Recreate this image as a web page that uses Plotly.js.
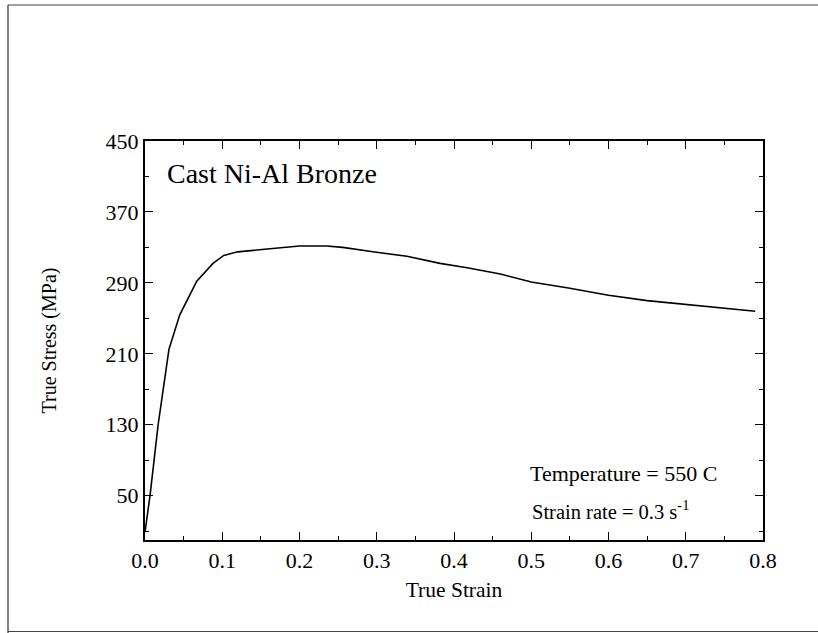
<!DOCTYPE html>
<html>
<head>
<meta charset="utf-8">
<script src="https://cdn.plot.ly/plotly-3.0.1.min.js"></script>
<style>html,body{margin:0;padding:0;background:#fff;}#chart{width:818px;height:633px;}</style>
</head>
<body>
<div id="chart"></div>
<script>
const strain = [0, 0.0065, 0.017, 0.031, 0.045, 0.067, 0.088, 0.102, 0.12, 0.146, 0.175, 0.2, 0.235, 0.256, 0.295, 0.339, 0.382, 0.417, 0.46, 0.5, 0.55, 0.6, 0.65, 0.7, 0.75, 0.79];
const stress = [9, 50, 130, 215, 254, 292, 312, 321, 325, 327, 330, 331.5, 331.5, 330, 325, 320, 312, 307, 300, 291, 284, 276, 270, 266, 262, 258];
const yTicks = [50, 130, 210, 290, 370, 450];
const xTicks = [0, 0.1, 0.2, 0.3, 0.4, 0.5, 0.6, 0.7, 0.8];
const xTickText = ['0.0', '0.1', '0.2', '0.3', '0.4', '0.5', '0.6', '0.7', '0.8'];

const F = 'Liberation Serif, Times New Roman, serif';

const trace = {
  x: strain, y: stress, type: 'scatter', mode: 'lines',
  line: {color: '#000', width: 1.6}, hoverinfo: 'skip'
};

// page frame (pixel positions converted to paper coordinates of the 618x399 plot area)
const px = p => (p - 145) / 618;
const py = p => (540 - p) / 399;

const layout = {
  width: 818, height: 633,
  margin: {l: 145, r: 55, t: 141, b: 93},
  paper_bgcolor: '#fff', plot_bgcolor: '#fff',
  showlegend: false,
  font: {family: F, color: '#000', size: 21},
  xaxis: {
    range: [0, 0.8], tickvals: xTicks, ticktext: xTickText,
    ticks: 'inside', ticklen: 8, tickwidth: 1, tickcolor: '#000',
    minor: {dtick: 0.05, tick0: 0, ticks: 'inside', ticklen: 4, tickcolor: '#000', showgrid: false},
    showline: true, linecolor: '#000', linewidth: 2, mirror: 'ticks',
    showgrid: false, zeroline: false,
    tickfont: {family: F, size: 22, color: '#000'},
    title: {text: 'True Strain', font: {family: F, size: 21.5, color: '#000'}, standoff: 10}
  },
  yaxis: {
    range: [0, 450], tickvals: yTicks,
    ticks: 'inside', ticklen: 8, tickwidth: 1, tickcolor: '#000',
    minor: {dtick: 40, tick0: 10, ticks: 'inside', ticklen: 4, tickcolor: '#000', showgrid: false},
    showline: true, linecolor: '#000', linewidth: 2, mirror: 'ticks',
    showgrid: false, zeroline: false,
    tickfont: {family: F, size: 22, color: '#000'},
    title: {text: 'True Stress (MPa)', font: {family: F, size: 20, color: '#000'}, standoff: 44}
  },
  annotations: [
    {x: 0.026, y: 413, xref: 'x', yref: 'y', text: 'Cast Ni-Al Bronze', showarrow: false,
     xanchor: 'left', yanchor: 'middle', font: {family: F, size: 28, color: '#000'}},
    {x: 0.496, y: 75.5, xref: 'x', yref: 'y', text: 'Temperature = 550 C', showarrow: false,
     xanchor: 'left', yanchor: 'middle', font: {family: F, size: 22, color: '#000'}},
    {x: 0.498, y: 34, xref: 'x', yref: 'y', text: 'Strain rate = 0.3 s<sup style="font-size:12px">-1</sup>', showarrow: false,
     xanchor: 'left', yanchor: 'middle', font: {family: F, size: 20.5, color: '#000'}}
  ],
  shapes: [
    {type: 'line', xref: 'paper', yref: 'paper', x0: px(8), x1: px(8), y0: py(633), y1: py(5),
     line: {color: '#333', width: 1.2}},
    {type: 'line', xref: 'paper', yref: 'paper', x0: px(8), x1: px(818), y0: py(5), y1: py(5),
     line: {color: '#444', width: 1.2}},
    {type: 'line', xref: 'paper', yref: 'paper', x0: px(8), x1: px(818), y0: py(631.5), y1: py(631.5),
     line: {color: '#444', width: 1.2}}
  ]
};

Plotly.newPlot('chart', [trace], layout, {displayModeBar: false, staticPlot: true});
</script>
</body>
</html>
